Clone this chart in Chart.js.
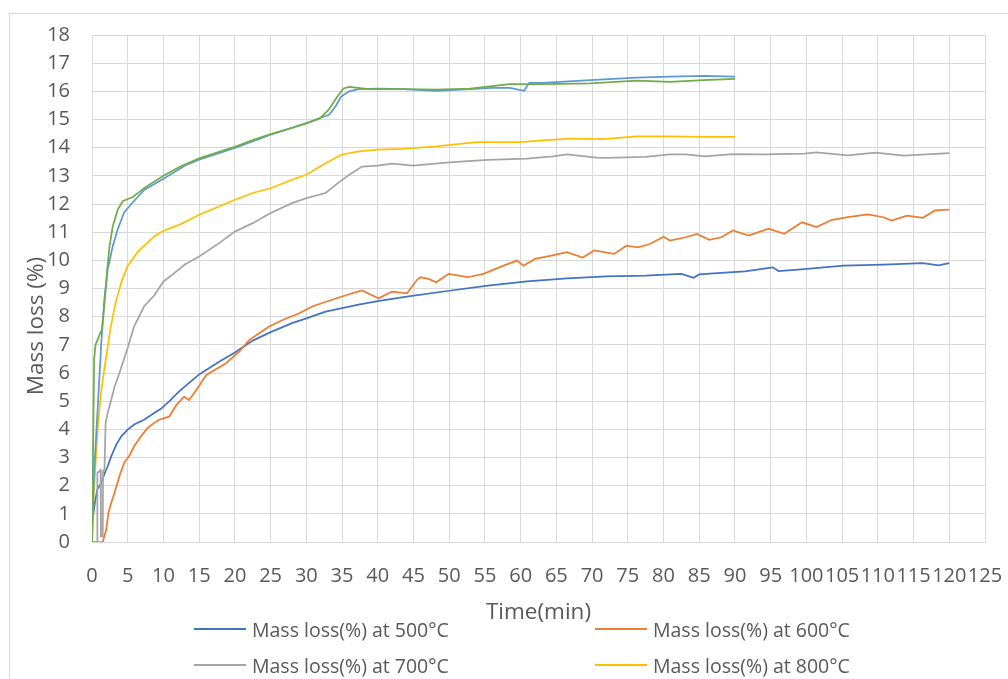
<!DOCTYPE html>
<html>
<head>
<meta charset="utf-8">
<title>Mass loss</title>
<script src="https://cdn.jsdelivr.net/npm/chart.js@4.4.1/dist/chart.umd.min.js"></script>
<style>
    body { margin: 0; background: #fff; overflow: hidden; width: 1008px; height: 679px; position: relative; font-family: "Open Sans", sans-serif; }
    #frame { position: absolute; left: 9px; top: 13px; width: 1100px; height: 800px; border: 1px solid #d9d9d9; }
    #chart { position: absolute; left: 0; top: 0; }
    #legend { position: absolute; left: 194px; top: 611px; display: grid; grid-template-columns: 401px 300px; grid-auto-rows: 36px; align-items: center; }
    .legend-item { display: flex; align-items: center; color: #595959; font-size: 19.5px; white-space: nowrap; }
    .legend-line { width: 52px; height: 2px; margin-right: 6px; }
</style>
</head>
<body>
<div id="frame"></div>
<canvas id="chart" width="1008" height="679"></canvas>
<div id="legend"></div>

<script>
// axis text
const xTitle = 'Time(min)';
const yTitle = 'Mass loss (%)';

// series names and colours (Excel order)
const seriesNames = [
    'Mass loss(%) at 500°C',
    'Mass loss(%) at 600°C',
    'Mass loss(%) at 700°C',
    'Mass loss(%) at 800°C',
    'Mass loss(%) at 900°C',
    'Mass loss(%) at 1000°C'
];
const seriesColors = ['#4472C4', '#ED7D31', '#A5A5A5', '#FFC000', '#5B9BD5', '#70AD47'];

// 500 C
const t500 = [0, 0.15, 0.4, 0.75, 1.3, 1.8, 2.2, 2.7, 3.4, 4.1, 5, 5.9, 7.3, 8.7, 9.6, 10.8, 12.2, 15, 17.8, 20, 22.5, 25, 28, 30, 32.7, 35, 37.3, 40, 44.3, 50, 55.4, 60.9, 66.5, 72, 77.5, 82.5, 84.2, 85, 87, 91.4, 95.3, 96.1, 99.7, 105.2, 110.8, 116.3, 118.5, 120];
const v500 = [0.75, 0.92, 1.39, 1.87, 2.1, 2.46, 2.69, 3.05, 3.46, 3.75, 3.99, 4.17, 4.34, 4.58, 4.72, 4.99, 5.35, 5.95, 6.4, 6.73, 7.15, 7.45, 7.77, 7.94, 8.18, 8.3, 8.43, 8.55, 8.72, 8.92, 9.1, 9.25, 9.36, 9.43, 9.46, 9.52, 9.38, 9.5, 9.54, 9.61, 9.75, 9.62, 9.69, 9.81, 9.85, 9.9, 9.82, 9.9];

// 600 C
const t600 = [0, 1.5, 2, 2.3, 2.7, 3.15, 3.84, 4.5, 5.2, 5.9, 6.85, 7.8, 8.7, 9.4, 10.8, 11.8, 12.9, 13.6, 14.6, 16, 18.7, 20.6, 22, 23.4, 24.8, 26.7, 29, 30.8, 33.6, 36.4, 37.8, 40.1, 42, 44.1, 45.5, 46, 47.1, 48.2, 49.9, 52.6, 54.8, 57.6, 59.5, 60.4, 62, 64.3, 66.5, 68.7, 70.3, 73.1, 74.8, 76.4, 78.1, 80, 80.9, 83.1, 84.7, 86.4, 88.1, 89.7, 91.9, 94.7, 96.9, 99.4, 101.4, 103.6, 105.8, 108.6, 110.8, 111.9, 114.1, 116.3, 118, 120];
const v600 = [0, 0, 0.45, 1.04, 1.39, 1.75, 2.34, 2.81, 3.05, 3.4, 3.75, 4.05, 4.23, 4.34, 4.45, 4.86, 5.16, 5.04, 5.4, 5.93, 6.34, 6.76, 7.17, 7.41, 7.65, 7.88, 8.12, 8.36, 8.6, 8.83, 8.93, 8.65, 8.89, 8.83, 9.31, 9.4, 9.34, 9.22, 9.52, 9.4, 9.52, 9.81, 9.99, 9.81, 10.05, 10.17, 10.29, 10.1, 10.35, 10.23, 10.52, 10.46, 10.58, 10.84, 10.7, 10.82, 10.94, 10.73, 10.82, 11.06, 10.88, 11.12, 10.94, 11.35, 11.18, 11.44, 11.53, 11.63, 11.53, 11.41, 11.59, 11.51, 11.77, 11.8];

// 700 C
const t700 = [0, 0.7, 0.75, 1.2, 1.25, 1.5, 1.55, 1.75, 1.9, 2.2, 2.7, 3.15, 3.84, 5, 5.9, 7.3, 8.7, 10, 11.3, 13, 15, 17.8, 20, 22.5, 25, 28, 30, 32.7, 34.1, 36, 37.8, 40, 42, 44.9, 50.5, 55.4, 60.9, 64.5, 66.5, 70.6, 72, 77.5, 80.9, 83.1, 85.8, 89.7, 94.2, 99.7, 101.4, 105.8, 109.7, 113.6, 120];
const v700 = [0, 0, 2.45, 2.55, 0.2, 0.2, 2.5, 2.6, 4.2, 4.6, 5.05, 5.5, 6.0, 6.9, 7.66, 8.37, 8.75, 9.25, 9.5, 9.85, 10.14, 10.61, 11.02, 11.32, 11.68, 12.03, 12.21, 12.39, 12.68, 13.04, 13.33, 13.36, 13.43, 13.36, 13.49, 13.57, 13.61, 13.69, 13.76, 13.65, 13.64, 13.67, 13.76, 13.76, 13.69, 13.77, 13.76, 13.79, 13.83, 13.73, 13.82, 13.72, 13.81];

// 800 C
const t800 = [0, 0.2, 0.5, 0.85, 1.3, 2.0, 2.6, 3.3, 4.2, 5, 6.4, 8.7, 10, 12.2, 15, 17.8, 20, 22.5, 25, 28, 30, 32.7, 34.9, 37.3, 40, 43.5, 48.2, 53.8, 59.9, 63.1, 66.9, 71.5, 76.2, 80.9, 85.6, 90];
const v800 = [0, 1.5, 2.8, 4.2, 5.4, 6.6, 7.6, 8.5, 9.3, 9.8, 10.3, 10.85, 11.05, 11.26, 11.62, 11.91, 12.15, 12.39, 12.56, 12.86, 13.04, 13.45, 13.75, 13.87, 13.93, 13.96, 14.05, 14.2, 14.2, 14.26, 14.32, 14.3, 14.4, 14.4, 14.38, 14.38];

// 900 C
const t900 = [0, 0.3, 0.83, 1.3, 1.76, 2.2, 2.9, 3.6, 4.5, 5.5, 7.3, 10, 13.2, 15, 20, 25, 30, 32.2, 33.2, 34.1, 34.9, 36, 37.3, 40, 43.5, 48.2, 52.9, 56, 58.5, 60.5, 61.2, 63.1, 69.7, 76.2, 80.9, 85.6, 90];
const v900 = [0, 2.5, 4.9, 7.07, 8.7, 9.67, 10.5, 11.1, 11.7, 12.0, 12.5, 12.9, 13.39, 13.57, 13.99, 14.46, 14.87, 15.08, 15.17, 15.47, 15.82, 16.0, 16.08, 16.1, 16.08, 16.02, 16.08, 16.12, 16.12, 16.02, 16.3, 16.3, 16.4, 16.49, 16.52, 16.55, 16.52];

// 1000 C
const t1000 = [0, 0.3, 0.5, 1.06, 1.39, 1.76, 2.13, 2.45, 2.9, 3.6, 4.3, 5.7, 7.5, 10, 12.3, 15, 17.9, 20, 22.5, 25, 27.7, 30, 31.9, 33.1, 34.3, 35.2, 36, 38.8, 43.5, 48.2, 52.9, 58.5, 63.1, 69.7, 76.2, 80.9, 85.6, 90];
const v1000 = [0, 6.5, 7.0, 7.36, 7.54, 8.49, 9.67, 10.5, 11.2, 11.8, 12.1, 12.25, 12.6, 13.0, 13.32, 13.62, 13.86, 14.03, 14.27, 14.48, 14.68, 14.86, 15.04, 15.34, 15.8, 16.1, 16.16, 16.08, 16.08, 16.06, 16.1, 16.26, 16.26, 16.28, 16.38, 16.34, 16.4, 16.44];

const allTimes = [t500, t600, t700, t800, t900, t1000];
const allValues = [v500, v600, v700, v800, v900, v1000];

const textColor = '#595959';
const gridColor = '#d9d9d9';
const fontFamily = '"Open Sans", sans-serif';

function makePoints(times, values) {
    return times.map((t, i) => ({ x: t, y: values[i] }));
}

var datasets = [];
for (var i = 0; i < seriesNames.length; i++) {
    datasets.push({
        label: seriesNames[i],
        data: makePoints(allTimes[i], allValues[i]),
        borderColor: seriesColors[i],
        backgroundColor: seriesColors[i],
        borderWidth: 1.75,
        pointRadius: 0,
        tension: 0,
        fill: false,
        // later series on top, like Excel
        order: seriesNames.length - i
    });
}

// y title sits lower than the plot centre in the original
const yTitlePlugin = {
    id: 'yTitle',
    afterDraw(chart) {
        const ctx = chart.ctx;
        ctx.save();
        ctx.translate(37, 326);
        ctx.rotate(-Math.PI / 2);
        ctx.font = '22.5px ' + fontFamily;
        ctx.fillStyle = textColor;
        ctx.textAlign = 'center';
        ctx.textBaseline = 'middle';
        ctx.fillText(yTitle, 0, 0);
        ctx.restore();
    }
};

var ctx = document.getElementById('chart').getContext('2d');

var massChart = new Chart(ctx, {
    type: 'line',
    data: { datasets: datasets },
    options: {
        responsive: false,
        animation: false,
        layout: {
            padding: { top: 35, right: 23, left: 10, bottom: 53 }
        },
        plugins: {
            legend: { display: false },
            tooltip: { enabled: false }
        },
        scales: {
            x: {
                type: 'linear',
                min: 0,
                max: 125,
                afterFit: function (scale) {
                    scale.height = 84;
                    // keep the plot edge where Excel has it
                    scale.paddingLeft = 0;
                    scale.paddingRight = 0;
                },
                ticks: {
                    stepSize: 5,
                    autoSkip: false,
                    maxRotation: 0,
                    padding: 22,
                    color: textColor,
                    font: { family: fontFamily, size: 20 }
                },
                grid: { color: gridColor, lineWidth: 1, drawTicks: false },
                border: { color: gridColor },
                title: {
                    display: true,
                    text: xTitle,
                    color: textColor,
                    padding: { top: 0, bottom: 0 },
                    font: { family: fontFamily, size: 22.5 }
                }
            },
            y: {
                min: 0,
                max: 18,
                afterFit: function (scale) { scale.width = 82; },
                ticks: {
                    stepSize: 1,
                    padding: 22,
                    color: textColor,
                    font: { family: fontFamily, size: 20 }
                },
                grid: { color: gridColor, lineWidth: 1, drawTicks: false },
                border: { color: gridColor }
            }
        }
    },
    plugins: [yTitlePlugin]
});

// legend in two columns, as in the Excel chart
var legendBox = document.getElementById('legend');
seriesNames.forEach(function (name, i) {
    var item = document.createElement('div');
    item.className = 'legend-item';
    var line = document.createElement('span');
    line.className = 'legend-line';
    line.style.background = seriesColors[i];
    var label = document.createElement('span');
    label.textContent = name;
    item.appendChild(line);
    item.appendChild(label);
    legendBox.appendChild(item);
});
</script>
</body>
</html>
